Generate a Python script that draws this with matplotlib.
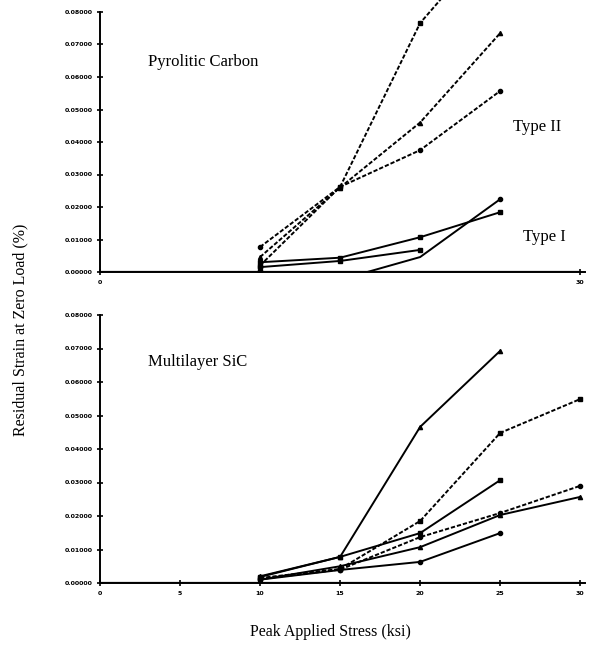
import matplotlib
matplotlib.use("Agg")
import matplotlib.pyplot as plt
import numpy as np

# pyrolitic carbon, type II (dashed)
pc2_x = [[10, 15, 20, 25], [10, 15, 20, 25], [10, 15, 20, 25]]
pc2_y = [[0.0020, 0.0262, 0.0766, 0.1050],
         [0.0046, 0.0260, 0.0460, 0.0735],
         [0.0077, 0.0262, 0.0375, 0.0557]]
pc2_m = ["s", "^", "o"]

# pyrolitic carbon, type I (solid)
pc1_x = [[10, 16.7, 20, 25], [10, 10, 15, 20, 25], [10, 10, 15, 20]]
pc1_y = [[0.0, 0.0, 0.0046, 0.0224],
         [0.0, 0.0030, 0.0044, 0.0107, 0.0184],
         [0.0, 0.0015, 0.0034, 0.0068]]
pc1_m = ["o", "s", "s"]

# multilayer SiC
sic_x = [[10, 15, 20, 25], [10, 15, 20, 25, 30], [10, 15, 20, 25],
         [10, 15, 20, 25, 30], [10, 15, 20, 25, 30], [10, 15, 20, 25]]
sic_y = [[0.0020, 0.0078, 0.0466, 0.0693],
         [0.0015, 0.0042, 0.0185, 0.0448, 0.0549],
         [0.0018, 0.0078, 0.0149, 0.0307],
         [0.0012, 0.0040, 0.0137, 0.0209, 0.0290],
         [0.0010, 0.0050, 0.0107, 0.0203, 0.0257],
         [0.0010, 0.0039, 0.0063, 0.0149]]
sic_m = ["^", "s", "s", "o", "^", "o"]
sic_dashed = [False, True, False, True, False, False]

y_ticks = np.arange(0, 0.0801, 0.01)
y_labels = ["%.5f" % v for v in y_ticks]

plt.rcParams["font.family"] = ["Liberation Serif", "DejaVu Serif"]

fig = plt.figure(figsize=(5.91, 6.49), dpi=100)
ax1 = fig.add_axes([100 / 591, 1 - 272 / 649, 485 / 591, 260 / 649])
ax2 = fig.add_axes([100 / 591, 1 - 583 / 649, 485 / 591, 268 / 649])

dash = (0, (2.2, 1.0))


def style(ax):
    for s in ["top", "right"]:
        ax.spines[s].set_visible(False)
    ax.spines["left"].set_linewidth(1.4)
    ax.spines["bottom"].set_linewidth(1.4)
    ax.set_xlim(0, 30.3)
    ax.set_ylim(0, 0.08)
    ax.set_yticks(y_ticks)
    ax.set_yticklabels(y_labels, fontsize=4.5, fontweight="bold", family="DejaVu Sans")
    ax.tick_params(axis="both", direction="inout", length=5, width=1.2, pad=3)
    ax.tick_params(axis="x", labelsize=4.5)


for i, (xs, ys, m) in enumerate(zip(pc2_x, pc2_y, pc2_m)):
    ax1.plot(xs, ys, color="black", lw=1.4, ls=dash, marker=m, ms=3, clip_on=(i != 0))
for xs, ys, m in zip(pc1_x, pc1_y, pc1_m):
    ax1.plot(xs, ys, color="black", lw=1.4, marker=m, ms=3,
             markevery=[len(xs) - 1] if m == "o" else None)
ax1.plot([0, 30], [0, 0], color="black", lw=1.6)
style(ax1)
ax1.set_xticks([0, 30])
ax1.set_xticklabels(["0", "30"], fontweight="bold", family="DejaVu Sans", fontsize=4.5)
ax1.text(3.0, 0.0646, "Pyrolitic Carbon", fontsize=12, va="center")
ax1.text(25.8, 0.0446, "Type II", fontsize=12, va="center")
ax1.text(26.4, 0.0108, "Type I", fontsize=12, va="center")

for xs, ys, m, d in zip(sic_x, sic_y, sic_m, sic_dashed):
    ax2.plot(xs, ys, color="black", lw=1.4, ls=dash if d else "-", marker=m, ms=3)
ax2.plot([0, 30], [0, 0], color="black", lw=1.6)
style(ax2)
ax2.set_xticks([0, 5, 10, 15, 20, 25, 30])
ax2.set_xticklabels(["0", "5", "10", "15", "20", "25", "30"], fontweight="bold",
                    family="DejaVu Sans", fontsize=4.5)
ax2.text(3.0, 0.066, "Multilayer SiC", fontsize=12, va="center")

fig.text(20 / 591, 1 - 330 / 649, "Residual Strain at Zero Load (%)", rotation=90,
         fontsize=11.5, ha="center", va="center")
fig.text(330 / 591, 1 - 632 / 649, "Peak Applied Stress (ksi)", fontsize=11.5,
         ha="center", va="center")

fig.savefig("out.png", dpi=100)
